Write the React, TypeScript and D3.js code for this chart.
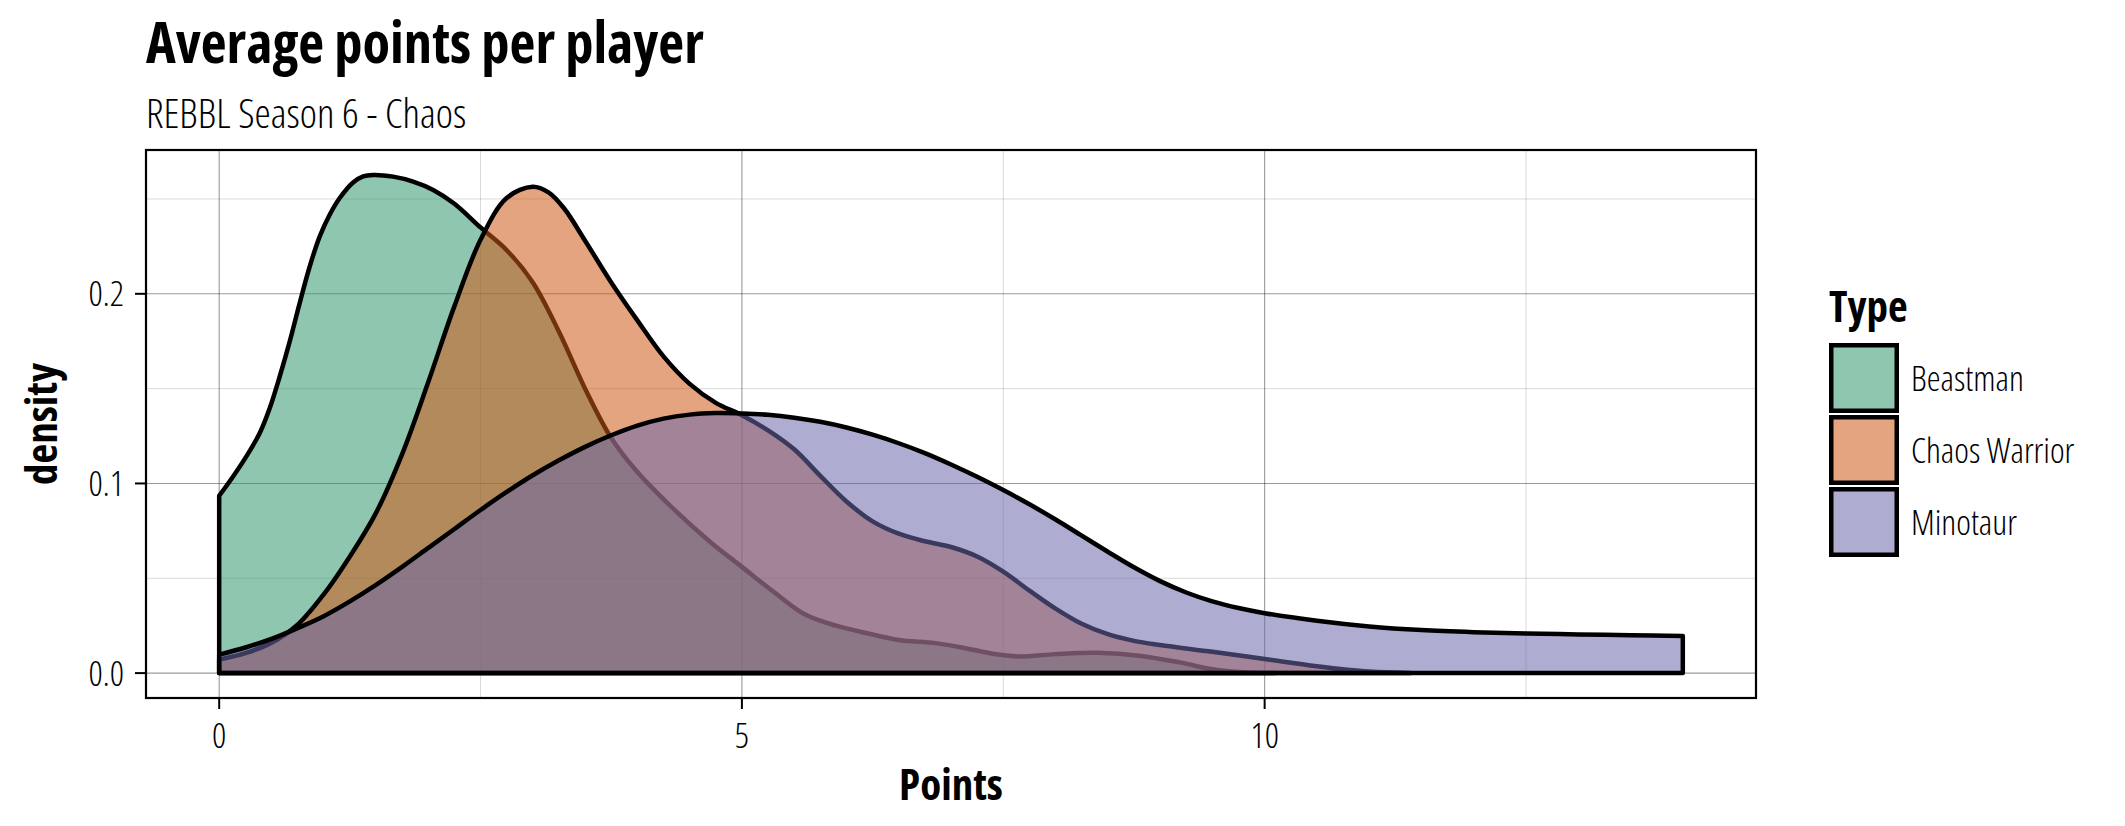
import React from 'react';
import * as d3 from 'd3';

const seriesNames = ['Beastman', 'Chaos Warrior', 'Minotaur'];
const seriesColors = ['#319770', '#D05A18', '#6E68AB'];

const beastmanX = [0, 0.133, 0.26, 0.388, 0.484, 0.579, 0.675, 0.77, 0.866, 0.962, 1.057, 1.153, 1.281, 1.377, 1.472, 1.664, 1.855, 2.047, 2.25, 2.5, 2.75, 3.0, 3.25, 3.5, 3.75, 4.0, 4.3, 4.7, 5.0, 5.3, 5.6, 5.9, 6.2, 6.5, 6.85, 7.15, 7.4, 7.65, 8.0, 8.4, 8.8, 9.2, 9.5, 9.8, 10.1];
const beastmanY = [0.0935, 0.1037, 0.1143, 0.1266, 0.1398, 0.1564, 0.1749, 0.1951, 0.2144, 0.2303, 0.2417, 0.2505, 0.2587, 0.2619, 0.2627, 0.2618, 0.2592, 0.2548, 0.2475, 0.235, 0.223, 0.206, 0.180, 0.150, 0.124, 0.106, 0.089, 0.069, 0.056, 0.043, 0.031, 0.025, 0.021, 0.0175, 0.0158, 0.013, 0.0102, 0.0088, 0.0100, 0.0107, 0.0092, 0.0055, 0.002, 0.0004, 0.0001];

const chaosX = [0, 0.25, 0.5, 0.75, 1.0, 1.25, 1.5, 1.75, 2.0, 2.25, 2.5, 2.75, 3.0, 3.15, 3.3, 3.5, 3.75, 4.0, 4.25, 4.5, 4.75, 5.0, 5.25, 5.5, 5.75, 6.0, 6.25, 6.5, 6.75, 7.0, 7.25, 7.5, 7.75, 8.0, 8.25, 8.5, 8.75, 9.0, 9.5, 10.0, 10.5, 11.0, 11.4];
const chaosY = [0.0071, 0.0105, 0.016, 0.0255, 0.0415, 0.0615, 0.0845, 0.1155, 0.1535, 0.1935, 0.2285, 0.2505, 0.2565, 0.2535, 0.245, 0.228, 0.206, 0.186, 0.167, 0.1525, 0.1425, 0.136, 0.128, 0.118, 0.104, 0.0905, 0.080, 0.0735, 0.0695, 0.0665, 0.0615, 0.0535, 0.0435, 0.034, 0.026, 0.0205, 0.017, 0.0148, 0.0112, 0.0074, 0.0036, 0.0008, 0.0001];

const minotaurX = [0, 0.25, 0.5, 0.75, 1.0, 1.25, 1.5, 1.75, 2.0, 2.25, 2.5, 2.75, 3.0, 3.25, 3.5, 3.75, 4.0, 4.25, 4.5, 4.75, 5.0, 5.25, 5.5, 5.75, 6.0, 6.25, 6.5, 6.75, 7.0, 7.25, 7.5, 7.75, 8.0, 8.25, 8.5, 8.75, 9.0, 9.25, 9.5, 9.75, 10.0, 10.5, 11.0, 11.5, 12.0, 12.5, 13.0, 13.5, 14.0];
const minotaurY = [0.0097, 0.0135, 0.018, 0.0237, 0.030, 0.0378, 0.0465, 0.056, 0.066, 0.076, 0.086, 0.0955, 0.1043, 0.1122, 0.1193, 0.1254, 0.1305, 0.1342, 0.1363, 0.1371, 0.1369, 0.1362, 0.1347, 0.1325, 0.1295, 0.1257, 0.1212, 0.116, 0.110, 0.1035, 0.0965, 0.089, 0.081, 0.0725, 0.064, 0.0558, 0.0485, 0.0425, 0.0378, 0.0343, 0.0316, 0.0276, 0.0246, 0.0227, 0.0216, 0.0209, 0.0204, 0.0200, 0.0195];

const xTicks = [0, 5, 10];
const xTickLabels = ['0', '5', '10'];
const xMinor = [2.5, 7.5, 12.5];
const yTicks = [0.0, 0.1, 0.2];
const yTickLabels = ['0.0', '0.1', '0.2'];
const yMinor = [0.05, 0.15, 0.25];

const titleText = 'Average points per player';
const subtitleText = 'REBBL Season 6 - Chaos';
const xTitle = 'Points';
const yTitle = 'density';
const legendTitle = 'Type';

const W = 2125;
const H = 826;
const P = { left: 146, right: 1756, top: 150, bottom: 698 };
const FONT = "'Open Sans', 'Liberation Sans Narrow', sans-serif";
const STRETCH = '75%';
const FILL_OPACITY = 0.55;
const LINE_W = 4.5;

export default function App() {
  const series = [
    { name: seriesNames[0], color: seriesColors[0], pts: beastmanX.map((x, i) => [x, beastmanY[i]] as [number, number]) },
    { name: seriesNames[1], color: seriesColors[1], pts: chaosX.map((x, i) => [x, chaosY[i]] as [number, number]) },
    { name: seriesNames[2], color: seriesColors[2], pts: minotaurX.map((x, i) => [x, minotaurY[i]] as [number, number]) },
  ];
  const allX = series.flatMap(s => s.pts.map(p => p[0]));
  const allY = series.flatMap(s => s.pts.map(p => p[1]));
  const xMin = d3.min(allX)!, xMax = d3.max(allX)!;
  const yMax = d3.max(allY)!;
  const xPad = (xMax - xMin) * 0.05;
  const yPad = yMax * 0.05;
  const x = d3.scaleLinear().domain([xMin - xPad, xMax + xPad]).range([P.left, P.right]);
  const y = d3.scaleLinear().domain([-yPad, yMax + yPad]).range([P.bottom, P.top]);

  const area = d3.area<[number, number]>()
    .x(d => x(d[0]))
    .y0(() => y(0))
    .y1(d => y(d[1]))
    .curve(d3.curveCatmullRom.alpha(0.5));

  const textBase = { fontFamily: FONT, fontStretch: STRETCH } as React.CSSProperties;

  return (
    <svg width={W} height={H} style={{ position: 'absolute', left: 0, top: 0, background: '#fff' }}>
      <rect x={0} y={0} width={W} height={H} fill="#fff" />
      <text x={146} y={63} style={{ ...textBase, fontWeight: 700, fontSize: 56.5 }}>{titleText}</text>
      <text x={146} y={128} style={{ ...textBase, fontWeight: 300, fontSize: 41 }}>{subtitleText}</text>

      {/* grid */}
      {xMinor.map(v => (
        <line key={'xm' + v} x1={x(v)} x2={x(v)} y1={P.top} y2={P.bottom} stroke="#000" strokeOpacity={0.15} strokeWidth={1} />
      ))}
      {yMinor.map(v => (
        <line key={'ym' + v} x1={P.left} x2={P.right} y1={y(v)} y2={y(v)} stroke="#000" strokeOpacity={0.15} strokeWidth={1} />
      ))}
      {xTicks.map(v => (
        <line key={'xM' + v} x1={x(v)} x2={x(v)} y1={P.top} y2={P.bottom} stroke="#000" strokeOpacity={0.4} strokeWidth={1.1} />
      ))}
      {yTicks.map(v => (
        <line key={'yM' + v} x1={P.left} x2={P.right} y1={y(v)} y2={y(v)} stroke="#000" strokeOpacity={0.4} strokeWidth={1.1} />
      ))}

      {/* densities */}
      {series.map(s => (
        <path key={s.name} d={area(s.pts) || ''} fill={s.color} fillOpacity={FILL_OPACITY}
          stroke="#000" strokeWidth={LINE_W} strokeLinejoin="round" />
      ))}

      {/* panel border */}
      <rect x={P.left} y={P.top} width={P.right - P.left} height={P.bottom - P.top} fill="none" stroke="#000" strokeWidth={2.2} />

      {/* axes */}
      {yTicks.map((v, i) => (
        <g key={'yt' + v}>
          <line x1={P.left - 11} x2={P.left} y1={y(v)} y2={y(v)} stroke="#000" strokeWidth={2} />
          <text x={P.left - 22} y={y(v) + 12.5} textAnchor="end" style={{ ...textBase, fontWeight: 300, fontSize: 35 }}>{yTickLabels[i]}</text>
        </g>
      ))}
      {xTicks.map((v, i) => (
        <g key={'xt' + v}>
          <line x1={x(v)} x2={x(v)} y1={P.bottom} y2={P.bottom + 11} stroke="#000" strokeWidth={2} />
          <text x={x(v)} y={748} textAnchor="middle" style={{ ...textBase, fontWeight: 300, fontSize: 35 }}>{xTickLabels[i]}</text>
        </g>
      ))}
      <text x={(P.left + P.right) / 2} y={800} textAnchor="middle" style={{ ...textBase, fontWeight: 700, fontSize: 43 }}>{xTitle}</text>
      <text transform={`translate(57, ${(P.top + P.bottom) / 2}) rotate(-90)`} textAnchor="middle" style={{ ...textBase, fontWeight: 700, fontSize: 43 }}>{yTitle}</text>

      {/* legend */}
      <text x={1829} y={322} style={{ ...textBase, fontWeight: 700, fontSize: 43 }}>{legendTitle}</text>
      {series.map((s, i) => {
        const top = 343 + i * 72;
        return (
          <g key={'lg' + s.name}>
            <rect x={1829 + LINE_W / 2} y={top + LINE_W / 2} width={70 - LINE_W} height={70 - LINE_W}
              fill={s.color} fillOpacity={FILL_OPACITY} stroke="#000" strokeWidth={LINE_W} />
            <text x={1911} y={top + 35 + 12.5} style={{ ...textBase, fontWeight: 300, fontSize: 35 }}>{s.name}</text>
          </g>
        );
      })}
    </svg>
  );
}
